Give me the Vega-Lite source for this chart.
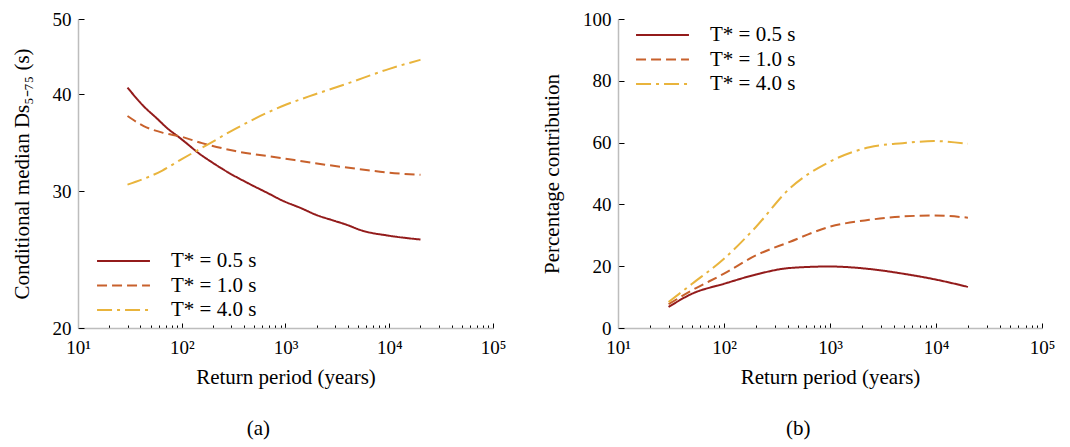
{
  "$schema": "https://vega.github.io/schema/vega-lite/v6.json",
  "padding": {"left": 11, "top": 10, "right": 5, "bottom": 5},
  "background": "white",
  "config": {
    "view": {"stroke": null},
    "font": "Liberation Serif",
    "axis": {
      "grid": false,
      "domainColor": "#bdbdbd",
      "domainWidth": 1.5,
      "tickColor": "black",
      "tickWidth": 1,
      "labelFont": "Liberation Serif",
      "labelFontSize": 19,
      "labelColor": "black",
      "titleFont": "Liberation Serif",
      "titleFontSize": 21,
      "titleFontWeight": "normal",
      "titleColor": "black"
    },
    "legend": {
      "orient": "none",
      "title": null,
      "symbolType": "stroke",
      "symbolSize": 2800,
      "symbolStrokeWidth": 2,
      "labelFont": "Liberation Serif",
      "labelFontSize": 21,
      "labelColor": "black",
      "labelOffset": 20,
      "padding": 0,
      "clipHeight": 20,
      "rowPadding": 3.5
    },
    "title": {"font": "Liberation Serif", "fontSize": 21, "fontWeight": "normal", "color": "black"}
  },
  "datasets": {
    "a": [
      {"T": 30, "v": 40.8, "s": "T* = 0.5 s"},
      {"T": 43, "v": 38.6, "s": "T* = 0.5 s"},
      {"T": 58, "v": 37.2, "s": "T* = 0.5 s"},
      {"T": 72, "v": 36.2, "s": "T* = 0.5 s"},
      {"T": 97, "v": 35.1, "s": "T* = 0.5 s"},
      {"T": 108, "v": 34.7, "s": "T* = 0.5 s"},
      {"T": 145, "v": 33.6, "s": "T* = 0.5 s"},
      {"T": 195, "v": 32.7, "s": "T* = 0.5 s"},
      {"T": 283, "v": 31.7, "s": "T* = 0.5 s"},
      {"T": 441, "v": 30.7, "s": "T* = 0.5 s"},
      {"T": 687, "v": 29.8, "s": "T* = 0.5 s"},
      {"T": 925, "v": 29.2, "s": "T* = 0.5 s"},
      {"T": 1442, "v": 28.5, "s": "T* = 0.5 s"},
      {"T": 1936, "v": 28.0, "s": "T* = 0.5 s"},
      {"T": 2910, "v": 27.5, "s": "T* = 0.5 s"},
      {"T": 3770, "v": 27.2, "s": "T* = 0.5 s"},
      {"T": 5460, "v": 26.7, "s": "T* = 0.5 s"},
      {"T": 9860, "v": 26.3, "s": "T* = 0.5 s"},
      {"T": 20000, "v": 26.0, "s": "T* = 0.5 s"},
      {"T": 30, "v": 37.5, "s": "T* = 1.0 s"},
      {"T": 43, "v": 36.4, "s": "T* = 1.0 s"},
      {"T": 65, "v": 35.7, "s": "T* = 1.0 s"},
      {"T": 97, "v": 35.3, "s": "T* = 1.0 s"},
      {"T": 157, "v": 34.6, "s": "T* = 1.0 s"},
      {"T": 328, "v": 33.8, "s": "T* = 1.0 s"},
      {"T": 925, "v": 33.1, "s": "T* = 1.0 s"},
      {"T": 1936, "v": 32.6, "s": "T* = 1.0 s"},
      {"T": 5460, "v": 32.0, "s": "T* = 1.0 s"},
      {"T": 9860, "v": 31.7, "s": "T* = 1.0 s"},
      {"T": 20000, "v": 31.5, "s": "T* = 1.0 s"},
      {"T": 30, "v": 30.6, "s": "T* = 4.0 s"},
      {"T": 65, "v": 31.9, "s": "T* = 4.0 s"},
      {"T": 100, "v": 33.0, "s": "T* = 4.0 s"},
      {"T": 181, "v": 34.5, "s": "T* = 4.0 s"},
      {"T": 328, "v": 36.1, "s": "T* = 4.0 s"},
      {"T": 925, "v": 38.6, "s": "T* = 4.0 s"},
      {"T": 1936, "v": 40.0, "s": "T* = 4.0 s"},
      {"T": 3770, "v": 41.2, "s": "T* = 4.0 s"},
      {"T": 9860, "v": 43.1, "s": "T* = 4.0 s"},
      {"T": 20000, "v": 44.3, "s": "T* = 4.0 s"}
    ],
    "b": [
      {"T": 30, "v": 6.8, "s": "T* = 0.5 s"},
      {"T": 50, "v": 11.1, "s": "T* = 0.5 s"},
      {"T": 100, "v": 14.3, "s": "T* = 0.5 s"},
      {"T": 200, "v": 17.3, "s": "T* = 0.5 s"},
      {"T": 412, "v": 19.4, "s": "T* = 0.5 s"},
      {"T": 980, "v": 19.9, "s": "T* = 0.5 s"},
      {"T": 2350, "v": 19.1, "s": "T* = 0.5 s"},
      {"T": 4840, "v": 17.6, "s": "T* = 0.5 s"},
      {"T": 9560, "v": 15.8, "s": "T* = 0.5 s"},
      {"T": 20000, "v": 13.3, "s": "T* = 0.5 s"},
      {"T": 30, "v": 7.7, "s": "T* = 1.0 s"},
      {"T": 50, "v": 12.2, "s": "T* = 1.0 s"},
      {"T": 100, "v": 17.6, "s": "T* = 1.0 s"},
      {"T": 200, "v": 23.5, "s": "T* = 1.0 s"},
      {"T": 412, "v": 27.8, "s": "T* = 1.0 s"},
      {"T": 980, "v": 32.7, "s": "T* = 1.0 s"},
      {"T": 2350, "v": 35.0, "s": "T* = 1.0 s"},
      {"T": 4840, "v": 36.1, "s": "T* = 1.0 s"},
      {"T": 9560, "v": 36.4, "s": "T* = 1.0 s"},
      {"T": 20000, "v": 35.7, "s": "T* = 1.0 s"},
      {"T": 30, "v": 8.4, "s": "T* = 4.0 s"},
      {"T": 50, "v": 14.3, "s": "T* = 4.0 s"},
      {"T": 100, "v": 22.4, "s": "T* = 4.0 s"},
      {"T": 200, "v": 32.7, "s": "T* = 4.0 s"},
      {"T": 412, "v": 45.0, "s": "T* = 4.0 s"},
      {"T": 980, "v": 53.7, "s": "T* = 4.0 s"},
      {"T": 2350, "v": 58.5, "s": "T* = 4.0 s"},
      {"T": 4840, "v": 59.8, "s": "T* = 4.0 s"},
      {"T": 9560, "v": 60.5, "s": "T* = 4.0 s"},
      {"T": 20000, "v": 59.6, "s": "T* = 4.0 s"}
    ]
  },
  "spacing": 35,
  "resolve": {
    "scale": {"color": "independent", "strokeDash": "independent", "x": "independent", "y": "independent"},
    "legend": {"color": "independent", "strokeDash": "independent"}
  },
  "hconcat": [
    {
      "width": 415,
      "height": 309,
      "data": {"name": "a"},
      "title": {"text": "(a)", "orient": "bottom", "frame": "bounds", "anchor": "middle", "offset": 31},
      "mark": {"type": "line", "strokeWidth": 2, "interpolate": "monotone"},
      "encoding": {
        "x": {
          "field": "T", "type": "quantitative",
          "scale": {"type": "log", "domain": [10, 100000], "nice": false},
          "axis": {
            "title": "Return period (years)",
            "titlePadding": 9,
            "labelPadding": 15,
            "labelFlush": false,
            "tickSize": {"condition": {"test": "round(datum.value) == 10 || round(datum.value) == 100 || round(datum.value) == 1000 || round(datum.value) == 10000 || round(datum.value) == 100000", "value": -5}, "value": -3},
            "labelExpr": "round(datum.value) == 10 ? '10¹' : round(datum.value) == 100 ? '10²' : round(datum.value) == 1000 ? '10³' : round(datum.value) == 10000 ? '10⁴' : round(datum.value) == 100000 ? '10⁵' : ''"
          }
        },
        "y": {
          "field": "v", "type": "quantitative",
          "scale": {"type": "log", "domain": [20, 50], "nice": false},
          "axis": {
            "title": "Conditional median Ds₅₋₇₅ (s)",
            "values": [20, 30, 40, 50],
            "tickSize": -6,
            "labelPadding": 13,
            "titlePadding": 20
          }
        },
        "color": {
          "field": "s", "type": "nominal",
          "scale": {"domain": ["T* = 0.5 s", "T* = 1.0 s", "T* = 4.0 s"], "range": ["#931b1b", "#c8612c", "#e9b43c"]},
          "legend": {"legendX": 18, "legendY": 232, "labelFont": "Liberation Serif"}
        },
        "strokeDash": {
          "field": "s", "type": "nominal",
          "scale": {"domain": ["T* = 0.5 s", "T* = 1.0 s", "T* = 4.0 s"], "range": [[1, 0], [10, 5], [15, 5, 3, 5]]},
          "legend": {"legendX": 18, "legendY": 232, "labelFont": "Liberation Serif"}
        }
      }
    },
    {
      "width": 424,
      "height": 309,
      "data": {"name": "b"},
      "title": {"text": "(b)", "orient": "bottom", "frame": "bounds", "anchor": "middle", "offset": 31},
      "mark": {"type": "line", "strokeWidth": 2, "interpolate": "monotone"},
      "encoding": {
        "x": {
          "field": "T", "type": "quantitative",
          "scale": {"type": "log", "domain": [10, 100000], "nice": false},
          "axis": {
            "title": "Return period (years)",
            "titlePadding": 9,
            "labelPadding": 15,
            "labelFlush": false,
            "tickSize": {"condition": {"test": "round(datum.value) == 10 || round(datum.value) == 100 || round(datum.value) == 1000 || round(datum.value) == 10000 || round(datum.value) == 100000", "value": -5}, "value": -3},
            "labelExpr": "round(datum.value) == 10 ? '10¹' : round(datum.value) == 100 ? '10²' : round(datum.value) == 1000 ? '10³' : round(datum.value) == 10000 ? '10⁴' : round(datum.value) == 100000 ? '10⁵' : ''"
          }
        },
        "y": {
          "field": "v", "type": "quantitative",
          "scale": {"domain": [0, 100], "nice": false},
          "axis": {
            "title": "Percentage contribution",
            "values": [0, 20, 40, 60, 80, 100],
            "tickSize": -6,
            "labelPadding": 13,
            "titlePadding": 20
          }
        },
        "color": {
          "field": "s", "type": "nominal",
          "scale": {"domain": ["T* = 0.5 s", "T* = 1.0 s", "T* = 4.0 s"], "range": ["#931b1b", "#c8612c", "#e9b43c"]},
          "legend": {"legendX": 17, "legendY": 6, "labelFont": "Liberation Serif"}
        },
        "strokeDash": {
          "field": "s", "type": "nominal",
          "scale": {"domain": ["T* = 0.5 s", "T* = 1.0 s", "T* = 4.0 s"], "range": [[1, 0], [10, 5], [15, 5, 3, 5]]},
          "legend": {"legendX": 17, "legendY": 6, "labelFont": "Liberation Serif"}
        }
      }
    }
  ]
}
